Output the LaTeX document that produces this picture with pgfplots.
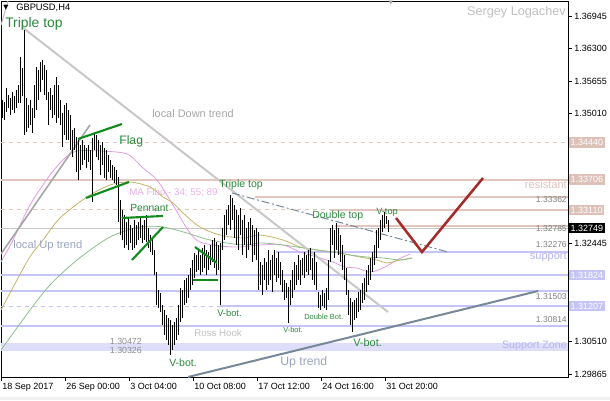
\documentclass[border=0pt]{standalone}
\usepackage{pgfplots}
\pgfplotsset{compat=1.18}
\usepackage{pgfplotstable}
\usepackage{fontspec}
\setmainfont{Liberation Sans}
\newfontfamily\symf{DejaVu Sans}

\definecolor{rose}{HTML}{E2C6BE}
\definecolor{rosebox}{HTML}{DDC1B9}
\definecolor{lav}{HTML}{C4C4F6}
\definecolor{lavtxt}{HTML}{B4B4F0}
\definecolor{band}{HTML}{DEDEFA}
\definecolor{pat}{HTML}{138A1E}
\definecolor{lbl}{HTML}{2A8A3C}
\definecolor{slate}{HTML}{778899}
\definecolor{trgray}{HTML}{C8C8C8}
\definecolor{txtgray}{HTML}{C0C0C0}
\definecolor{bluegray}{HTML}{9AA6BE}
\definecolor{mapink}{HTML}{E39BE3}
\definecolor{maolive}{HTML}{C4B46A}
\definecolor{magreen}{HTML}{8CBF8C}
\definecolor{projred}{HTML}{A52A2A}

\newcommand\fs[1]{\fontsize{#1}{#1}\selectfont}

% H4 bars: index, low, high
\pgfplotstableread{
i lo hi
0 1.3493 1.3528
1 1.3489 1.3524
2 1.3505 1.3552
3 1.3513 1.3538
4 1.3499 1.3532
5 1.3509 1.3544
6 1.3503 1.3536
7 1.3513 1.3548
8 1.3522 1.3558
9 1.3522 1.3613
10 1.3536 1.3592
11 1.3459 1.3667
12 1.3465 1.3532
13 1.3473 1.3518
14 1.3479 1.3528
15 1.3463 1.3513
16 1.3493 1.3558
17 1.3509 1.3594
18 1.3528 1.3588
19 1.3544 1.3603
20 1.3568 1.3608
21 1.3538 1.3598
22 1.3528 1.3588
23 1.3479 1.3544
24 1.3509 1.3552
25 1.3493 1.3538
26 1.3499 1.3558
27 1.3483 1.3574
28 1.3493 1.3558
29 1.3479 1.3528
30 1.3435 1.3503
31 1.3459 1.3518
32 1.3449 1.3522
33 1.3449 1.3509
34 1.3430 1.3499
35 1.3416 1.3469
36 1.3430 1.3473
37 1.3386 1.3455
38 1.3370 1.3449
39 1.3390 1.3439
40 1.3400 1.3449
41 1.3410 1.3439
42 1.3394 1.3433
43 1.3406 1.3439
44 1.3390 1.3430
45 1.3327 1.3453
46 1.3430 1.3463
47 1.3416 1.3459
48 1.3410 1.3449
49 1.3380 1.3439
50 1.3400 1.3445
51 1.3374 1.3433
52 1.3370 1.3430
53 1.3386 1.3420
54 1.3374 1.3410
55 1.3370 1.3400
56 1.3364 1.3396
57 1.3360 1.3390
58 1.3287 1.3376
59 1.3261 1.3331
60 1.3252 1.3311
61 1.3236 1.3301
62 1.3242 1.3287
63 1.3232 1.3295
64 1.3246 1.3281
65 1.3232 1.3275
66 1.3236 1.3291
67 1.3242 1.3281
68 1.3252 1.3287
69 1.3256 1.3295
70 1.3246 1.3281
71 1.3252 1.3291
72 1.3248 1.3301
73 1.3236 1.3275
74 1.3228 1.3261
75 1.3222 1.3256
76 1.3182 1.3232
77 1.3123 1.3188
78 1.3117 1.3153
79 1.3109 1.3147
80 1.3083 1.3123
81 1.3063 1.3113
82 1.3054 1.3103
83 1.3044 1.3097
84 1.3024 1.3093
85 1.3034 1.3083
86 1.3044 1.3089
87 1.3054 1.3097
88 1.3063 1.3123
89 1.3089 1.3157
90 1.3097 1.3153
91 1.3123 1.3172
92 1.3127 1.3176
93 1.3137 1.3182
94 1.3153 1.3196
95 1.3163 1.3212
96 1.3176 1.3226
97 1.3188 1.3222
98 1.3192 1.3232
99 1.3182 1.3222
100 1.3188 1.3236
101 1.3196 1.3242
102 1.3182 1.3232
103 1.3192 1.3228
104 1.3202 1.3242
105 1.3208 1.3252
106 1.3196 1.3256
107 1.3182 1.3248
108 1.3192 1.3242
109 1.3123 1.3246
110 1.3232 1.3275
111 1.3252 1.3301
112 1.3261 1.3311
113 1.3281 1.3321
114 1.3271 1.3341
115 1.3291 1.3335
116 1.3256 1.3321
117 1.3242 1.3311
118 1.3232 1.3301
119 1.3261 1.3315
120 1.3222 1.3291
121 1.3242 1.3301
122 1.3216 1.3275
123 1.3232 1.3287
124 1.3242 1.3295
125 1.3208 1.3281
126 1.3222 1.3271
127 1.3212 1.3275
128 1.3153 1.3267
129 1.3163 1.3208
130 1.3143 1.3202
131 1.3172 1.3216
132 1.3153 1.3208
133 1.3163 1.3232
134 1.3172 1.3212
135 1.3149 1.3222
136 1.3182 1.3232
137 1.3168 1.3216
138 1.3176 1.3228
139 1.3163 1.3208
140 1.3149 1.3192
141 1.3133 1.3172
142 1.3137 1.3166
143 1.3087 1.3159
144 1.3123 1.3172
145 1.3137 1.3192
146 1.3153 1.3208
147 1.3163 1.3202
148 1.3172 1.3222
149 1.3163 1.3212
150 1.3182 1.3216
151 1.3176 1.3228
152 1.3188 1.3222
153 1.3182 1.3232
154 1.3192 1.3236
155 1.3172 1.3216
156 1.3163 1.3228
157 1.3153 1.3208
158 1.3117 1.3149
159 1.3113 1.3143
160 1.3121 1.3153
161 1.3117 1.3147
162 1.3113 1.3157
163 1.3133 1.3212
164 1.3208 1.3275
165 1.3242 1.3281
166 1.3216 1.3271
167 1.3232 1.3285
168 1.3222 1.3275
169 1.3208 1.3261
170 1.3192 1.3242
171 1.3172 1.3222
172 1.3143 1.3196
173 1.3103 1.3153
174 1.3083 1.3137
175 1.3069 1.3129
176 1.3093 1.3133
177 1.3097 1.3137
178 1.3109 1.3149
179 1.3113 1.3153
180 1.3127 1.3166
181 1.3133 1.3176
182 1.3149 1.3192
183 1.3163 1.3202
184 1.3172 1.3216
185 1.3188 1.3228
186 1.3202 1.3242
187 1.3216 1.3271
188 1.3236 1.3275
189 1.3252 1.3291
190 1.3267 1.3301
191 1.3275 1.3307
192 1.3283 1.3299
193 1.3267 1.3291
}\bars

\begin{document}
\begin{tikzpicture}
\path[use as bounding box] (0,0) rectangle (457.5pt,300pt);
\fill[black!6] (0,0) rectangle (457.5pt,2.25pt);
\begin{axis}[
  at={(0.75pt,17.25pt)}, anchor=south west,
  scale only axis, width=425.25pt, height=282pt,
  xmin=-0.5, xmax=283, ymin=1.29805, ymax=1.37242,
  axis line style={black, line width=0.75pt},
  tick style={black, line width=0.6pt},
  tick align=outside, major tick length=3pt,
  xtick pos=left, ytick pos=right,
  xtick={-0.5,31.5,63.5,95.5,127.5,159.5,191.5},
  xticklabels={18 Sep 2017,26 Sep 00:00,3 Oct 04:00,10 Oct 08:00,17 Oct 12:00,24 Oct 16:00,31 Oct 20:00},
  ytick={1.29865,1.30510,1.32445,1.35010,1.35655,1.36300,1.36945},
  yticklabels={},
  ticklabel style={font=\fs{6.75}, inner sep=0pt},
  xticklabel style={anchor=north west, xshift=0.75pt, yshift=-1.5pt},
  clip mode=individual,
]
% support zone band
\addplot[fill=band, draw=none] coordinates {(-0.5,1.30326) (283,1.30326) (283,1.30472) (-0.5,1.30472)} -- cycle;
% resistance levels
\addplot[rose, line width=0.75pt, dash pattern=on 3pt off 3pt] coordinates {(-0.5,1.34440) (283,1.34440)};
\addplot[rose, line width=1.6pt] coordinates {(-0.5,1.33706) (283,1.33706)};
\addplot[rose, line width=1.4pt] coordinates {(126.5,1.33362) (283,1.33362)};
\addplot[rose, line width=0.75pt, dash pattern=on 3pt off 3pt] coordinates {(-0.5,1.33110) (283,1.33110)};
\addplot[rose, line width=1.6pt] coordinates {(164,1.33110) (283,1.33110)};
\addplot[rose, line width=1.4pt] coordinates {(166.5,1.32785) (283,1.32785)};
\addplot[black!22, line width=0.6pt] coordinates {(-0.5,1.32749) (283,1.32749)};
% support levels
\addplot[lav, line width=1.6pt] coordinates {(137,1.32276) (283,1.32276)};
\addplot[lav, line width=1.6pt] coordinates {(-0.5,1.31824) (283,1.31824)};
\addplot[lav, line width=1.6pt] coordinates {(-0.5,1.31503) (283,1.31503)};
\addplot[lav, line width=0.75pt, dash pattern=on 3pt off 3pt] coordinates {(-0.5,1.31207) (109,1.31207)};
\addplot[lav, line width=1.6pt] coordinates {(109,1.31207) (283,1.31207)};
\addplot[lav, line width=1.6pt] coordinates {(-0.5,1.30814) (283,1.30814)};
% moving averages
\addplot[mapink, line width=0.6pt, smooth] coordinates {(-0.5,1.32079) (5.5,1.32515) (14,1.33207) (24,1.33800) (31.5,1.34137) (37.5,1.34275) (49,1.34275) (62.5,1.34216) (70.5,1.33939) (77.5,1.33702) (84,1.33306) (89,1.32970) (94,1.32653) (99,1.32475) (109,1.32396) (119,1.32376) (129,1.32416) (140.5,1.32416) (149,1.32277) (157.5,1.32178) (165.5,1.32079) (171.5,1.31980) (177.5,1.31960) (184,1.31881) (190.5,1.31960) (197.5,1.32119) (204,1.32238)};
\addplot[maolive, line width=0.6pt, smooth] coordinates {(-0.5,1.31130) (13,1.32119) (20.5,1.32515) (29,1.32950) (42.5,1.33366) (54,1.33603) (64,1.33662) (74,1.33563) (80.5,1.33366) (85.5,1.33247) (90.5,1.33049) (99,1.32772) (109,1.32614) (120.5,1.32554) (129,1.32614) (140.5,1.32515) (149,1.32376) (157.5,1.32317) (169,1.32257) (179,1.32178) (187.5,1.32119) (192.5,1.32060) (199,1.32119) (205,1.32159)};
\addplot[magreen, line width=0.6pt, smooth] coordinates {(-0.5,1.30339) (14,1.31130) (24,1.31625) (37.5,1.32119) (54,1.32574) (69,1.32772) (80.5,1.32772) (92.5,1.32653) (104,1.32515) (120.5,1.32416) (129,1.32456) (140.5,1.32416) (157.5,1.32317) (165.5,1.32277) (174,1.32218) (182.5,1.32178) (190.5,1.32159) (199,1.32119) (205,1.32159)};
% trend lines
\addplot[trgray, line width=1.5pt] coordinates {(10,1.36728) (193,1.31091)};
\addplot[black!35, line width=1.2pt] coordinates {(-0.5,1.32238) (44,1.34790)};
\addplot[black!25, line width=0.8pt] coordinates {(-0.5,1.36767) (3,1.37242)};
\addplot[slate, line width=1.5pt] coordinates {(93,1.29805) (268,1.31506)};
\addplot[slate, line width=0.75pt, dash pattern=on 6pt off 2pt on 1.5pt off 2pt] coordinates {(115,1.33445) (223,1.32277)};
% price bars
\addplot[draw=none, mark=none, error bars/.cd, y dir=both, y explicit, error mark=none,
  error bar style={draw=black, line width=0.75pt}]
  table[x=i, y expr={(\thisrow{hi}+\thisrow{lo})/2}, y error expr={(\thisrow{hi}-\thisrow{lo})/2}] {\bars};
% chart patterns
\addplot[pat, line width=1.6pt] coordinates {(38,1.34513) (60,1.34809)};
\addplot[pat, line width=1.6pt] coordinates {(42,1.33346) (63.5,1.33662)};
\addplot[pat, line width=1.6pt] coordinates {(60,1.32950) (80.5,1.32990)};
\addplot[pat, line width=1.6pt] coordinates {(65,1.32119) (80.5,1.32772)};
\addplot[pat, line width=1.6pt] coordinates {(96.5,1.32376) (107.5,1.32060)};
\addplot[pat, line width=1.6pt] coordinates {(95.5,1.31724) (108,1.31724)};
\addplot[projred, line width=1.9pt] coordinates {(197,1.32950) (210,1.32277) (240.5,1.33741)};

% labels
\node[anchor=west, inner sep=0pt, font=\fs{5}\symf] at (axis cs:0.6,1.37104) {▼};
\node[anchor=west, inner sep=0pt, font=\fs{7}] at (axis cs:7,1.37104) {GBPUSD,H4};
\node[inner sep=0pt, font=\fs{4}\symf, text=black!35] at (axis cs:194.5,1.37203) {▼};
\node[anchor=west, inner sep=0pt, font=\fs{10.4}, text=lbl] at (axis cs:1.5,1.36787) {Triple top};
\node[anchor=east, inner sep=0pt, font=\fs{9.5}, text=txtgray] at (axis cs:282,1.37025) {Sergey Logachev};
\node[anchor=west, inner sep=0pt, font=\fs{8.2}, text=black!35] at (axis cs:75,1.35007) {local Down trend};
\node[anchor=west, inner sep=0pt, font=\fs{9.2}, text=lbl] at (axis cs:58.5,1.34473) {Flag};
\node[anchor=west, inner sep=0pt, font=\fs{7.3}, text=mapink!80] at (axis cs:63.5,1.33445) {MA Fibo - 34; 55; 89};
\node[anchor=west, inner sep=0pt, font=\fs{7.7}, text=lbl] at (axis cs:64,1.33148) {Pennant};
\node[anchor=west, inner sep=0pt, font=\fs{8.4}, text=bluegray] at (axis cs:5.5,1.32396) {local  Up trend};
\node[anchor=west, inner sep=0pt, font=\fs{7.9}, text=lbl] at (axis cs:108.5,1.33603) {Triple top};
\node[anchor=west, inner sep=0pt, font=\fs{7.9}, text=lbl] at (axis cs:155,1.32990) {Double top};
\node[anchor=west, inner sep=0pt, font=\fs{6.9}, text=lbl] at (axis cs:187,1.33069) {V-top};
\node[anchor=west, inner sep=0pt, font=\fs{7}, text=lbl] at (axis cs:107.5,1.31071) {V-bot.};
\node[anchor=west, inner sep=0pt, font=\fs{7.9}, text=lbl] at (axis cs:83.5,1.30082) {V-bot.};
\node[anchor=west, inner sep=0pt, font=\fs{5.6}, text=lbl] at (axis cs:140.5,1.30735) {V-bot.};
\node[anchor=west, inner sep=0pt, font=\fs{5.6}, text=lbl] at (axis cs:151,1.30992) {Double Bot.};
\node[anchor=west, inner sep=0pt, font=\fs{8.2}, text=lbl] at (axis cs:175.5,1.30478) {V-bot.};
\node[anchor=west, inner sep=0pt, font=\fs{7.3}, text=txtgray] at (axis cs:96,1.30676) {Ross Hook};
\node[anchor=west, inner sep=0pt, font=\fs{9.2}, text=bluegray] at (axis cs:139,1.30101) {Up trend};
\node[anchor=east, inner sep=0pt, font=\fs{6.6}, text=black!45] at (axis cs:70,1.30517) {1.30472};
\node[anchor=east, inner sep=0pt, font=\fs{6.6}, text=black!45] at (axis cs:70,1.30339) {1.30326};
\node[anchor=east, inner sep=0pt, font=\fs{6.4}, text=black!50] at (axis cs:282.5,1.33306) {1.33362};
\node[anchor=east, inner sep=0pt, font=\fs{6.4}, text=black!50] at (axis cs:282.5,1.32733) {1.32785};
\node[anchor=east, inner sep=0pt, font=\fs{6.4}, text=black!50] at (axis cs:282.5,1.32416) {1.32276};
\node[anchor=east, inner sep=0pt, font=\fs{6.4}, text=black!50] at (axis cs:282.5,1.31388) {1.31503};
\node[anchor=east, inner sep=0pt, font=\fs{6.4}, text=black!50] at (axis cs:282.5,1.30932) {1.30814};
\node[anchor=east, inner sep=0pt, font=\fs{8.3}, text=rosebox] at (axis cs:282.5,1.33603) {resistant};
\node[anchor=east, inner sep=0pt, font=\fs{8.3}, text=lavtxt] at (axis cs:282.5,1.32178) {support};
\node[anchor=east, inner sep=0pt, font=\fs{8}, text=lavtxt] at (axis cs:282.5,1.30418) {Support Zone};
% price scale labels
\node[anchor=west, inner sep=0pt, font=\fs{6.75}, xshift=4.5pt] at (axis cs:283,1.36945) {1.36945};
\node[anchor=west, inner sep=0pt, font=\fs{6.75}, xshift=4.5pt] at (axis cs:283,1.36300) {1.36300};
\node[anchor=west, inner sep=0pt, font=\fs{6.75}, xshift=4.5pt] at (axis cs:283,1.35655) {1.35655};
\node[anchor=west, inner sep=0pt, font=\fs{6.75}, xshift=4.5pt] at (axis cs:283,1.35010) {1.35010};
\node[anchor=west, inner sep=0pt, font=\fs{6.75}, xshift=4.5pt] at (axis cs:283,1.32445) {1.32445};
\node[anchor=west, inner sep=0pt, font=\fs{6.75}, xshift=4.5pt] at (axis cs:283,1.30510) {1.30510};
\node[anchor=west, inner sep=0pt, font=\fs{6.75}, xshift=4.5pt] at (axis cs:283,1.29865) {1.29865};
% price boxes on the scale
\node[anchor=west, fill=rosebox, text=white, font=\fs{6.75}, inner xsep=1pt, inner ysep=1.6pt, xshift=0.8pt] at (axis cs:283,1.34440) {1.34440};
\node[anchor=west, fill=rosebox, text=white, font=\fs{6.75}, inner xsep=1pt, inner ysep=1.6pt, xshift=0.8pt] at (axis cs:283,1.33706) {1.33706};
\node[anchor=west, fill=rosebox, text=white, font=\fs{6.75}, inner xsep=1pt, inner ysep=1.6pt, xshift=0.8pt] at (axis cs:283,1.33110) {1.33110};
\node[anchor=west, fill=black, text=white, font=\fs{6.75}, inner xsep=1pt, inner ysep=1.6pt, xshift=0.8pt] at (axis cs:283,1.32749) {1.32749};
\node[anchor=west, fill=lav, text=white, font=\fs{6.75}, inner xsep=1pt, inner ysep=1.6pt, xshift=0.8pt] at (axis cs:283,1.31824) {1.31824};
\node[anchor=west, fill=lav, text=white, font=\fs{6.75}, inner xsep=1pt, inner ysep=1.6pt, xshift=0.8pt] at (axis cs:283,1.31207) {1.31207};
\end{axis}
\end{tikzpicture}
\end{document}
